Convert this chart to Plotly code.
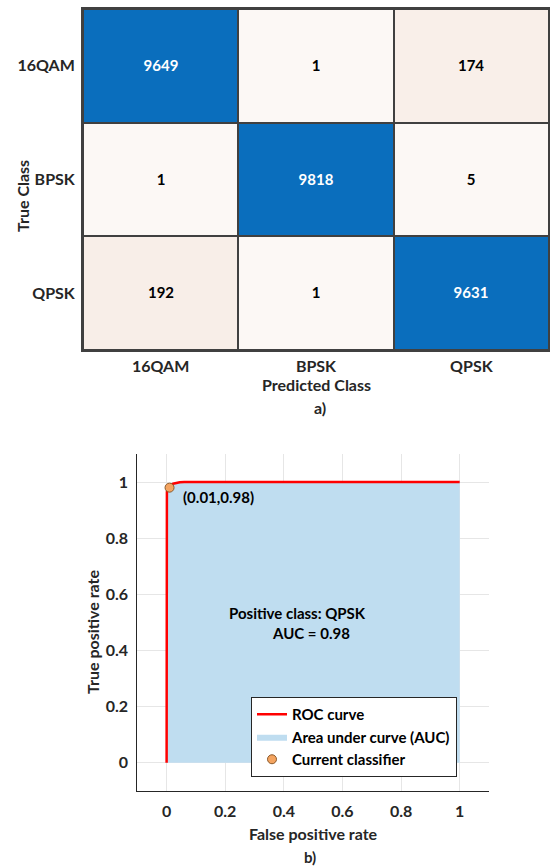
import plotly.graph_objects as go

# ---------------- data ----------------
classes = ["16QAM", "BPSK", "QPSK"]
counts = [
    [9649, 1, 174],
    [1, 9818, 5],
    [192, 1, 9631],
]
roc_fpr = [0.0, 0.0, 0.001, 0.003, 0.006, 0.01, 0.015, 0.022, 0.032, 0.045, 0.06, 1.0]
roc_tpr = [0.0, 0.95, 0.965, 0.975, 0.98, 0.985, 0.99, 0.994, 0.997, 0.999, 1.0, 1.0]
cur_fpr = [0.01]
cur_tpr = [0.98]
auc = 0.98
pos_class = "QPSK"
roc_ticks = [0, 0.2, 0.4, 0.6, 0.8, 1]

FONT = "Lato"
TXT = "#262626"

n = len(classes)
diag_z = [[counts[i][j] if i == j else None for j in range(n)] for i in range(n)]
off_z = [[counts[i][j] if i != j else None for j in range(n)] for i in range(n)]
diag_t = [[str(counts[i][j]) if i == j else "" for j in range(n)] for i in range(n)]
off_t = [[str(counts[i][j]) if i != j else "" for j in range(n)] for i in range(n)]

fig = go.Figure()

fig.add_trace(go.Heatmap(
    z=diag_z, x=classes, y=classes, text=diag_t, texttemplate="%{text}",
    textfont=dict(family=FONT, size=15, color="white", weight="bold"),
    colorscale=[[0, "#0A6EBD"], [1, "#0A6EBD"]], showscale=False,
    xgap=2, ygap=2, hoverongaps=False, xaxis="x", yaxis="y", showlegend=False,
))
fig.add_trace(go.Heatmap(
    z=off_z, x=classes, y=classes, text=off_t, texttemplate="%{text}",
    textfont=dict(family=FONT, size=15, color="black", weight="bold"),
    colorscale=[[0, "#FCF8F5"], [1, "#F8EEE7"]], zmin=0, zmax=200, showscale=False,
    xgap=2, ygap=2, hoverongaps=False, xaxis="x", yaxis="y", showlegend=False,
))

# ROC area
fig.add_trace(go.Scatter(
    x=roc_fpr, y=roc_tpr, mode="lines", fill="tozeroy",
    fillcolor="#BFDDF0", line=dict(width=0, color="#BFDDF0"),
    name="Area under curve (AUC)", xaxis="x2", yaxis="y2", legendrank=2,
))
# ROC curve
fig.add_trace(go.Scatter(
    x=roc_fpr, y=roc_tpr, mode="lines",
    line=dict(color="#FF0000", width=2.5),
    name="ROC curve", xaxis="x2", yaxis="y2", legendrank=1,
))
# current classifier
fig.add_trace(go.Scatter(
    x=cur_fpr, y=cur_tpr, mode="markers",
    marker=dict(color="#F4A460", size=9, line=dict(color="#8B5A2B", width=1)),
    name="Current classifier", xaxis="x2", yaxis="y2", legendrank=3,
))

# dark background behind heatmap cells -> cell borders
fig.add_shape(type="rect", xref="x domain", yref="y domain", x0=0, x1=1, y0=0, y1=1,
              fillcolor="#404040", line=dict(width=0), layer="below")

fig.update_layout(
    width=550, height=868,
    margin=dict(l=0, r=0, t=0, b=0),
    paper_bgcolor="white",
    plot_bgcolor="white",
    font=dict(family=FONT, color=TXT, size=14),
    xaxis=dict(
        domain=[83 / 550, 549 / 550], anchor="y", showgrid=False, zeroline=False,
        ticks="", ticklabelstandoff=1,
        tickfont=dict(family=FONT, size=16, color=TXT, weight="bold"),
        showline=True, linecolor="#404040", linewidth=2, mirror=True,
    ),
    yaxis=dict(
        domain=[1 - 350 / 868, 1 - 9 / 868], anchor="x", autorange="reversed",
        showgrid=False, zeroline=False, ticks="", ticklabelstandoff=3,
        tickfont=dict(family=FONT, size=16, color=TXT, weight="bold"),
        showline=True, linecolor="#404040", linewidth=2, mirror=True,
    ),
    xaxis2=dict(
        domain=[137.3 / 550, 489 / 550], anchor="y2", range=[-0.1, 1.1],
        tickvals=roc_ticks, ticktext=[f"{v:g}" for v in roc_ticks],
        showgrid=True, gridcolor="#E6E6E6", gridwidth=1, zeroline=False,
        showline=True, linecolor="#262626", linewidth=1, ticks="", ticklabelstandoff=6,
        tickfont=dict(family=FONT, size=16, color=TXT, weight="bold"),
    ),
    yaxis2=dict(
        domain=[1 - 790.7 / 868, 1 - 454 / 868], anchor="x2", range=[-0.1, 1.1],
        tickvals=roc_ticks, ticktext=[f"{v:g}" for v in roc_ticks],
        showgrid=True, gridcolor="#E6E6E6", gridwidth=1, zeroline=False,
        showline=True, linecolor="#262626", linewidth=1, ticks="", ticklabelstandoff=5,
        tickfont=dict(family=FONT, size=16, color=TXT, weight="bold"),
    ),
    legend=dict(
        x=251 / 550, y=1 - 697 / 868, xanchor="left", yanchor="top",
        bgcolor="white", bordercolor="#262626", borderwidth=1,
        font=dict(family=FONT, size=15, color="black", weight="bold"),
        itemwidth=30, tracegroupgap=0,
    ),
    showlegend=True,
)

ann = [
    dict(text="True Class", x=22 / 550, y=1 - 196 / 868, textangle=-90, size=16),
    dict(text="Predicted Class", x=316.5 / 550, y=1 - 384 / 868, textangle=0, size=16),
    dict(text="a)", x=320 / 550, y=1 - 408 / 868, textangle=0, size=16),
    dict(text="True positive rate", x=92 / 550, y=1 - 632 / 868, textangle=-90, size=16),
    dict(text="False positive rate", x=313 / 550, y=1 - 833 / 868, textangle=0, size=16),
    dict(text="b)", x=310 / 550, y=1 - 857 / 868, textangle=0, size=15),
]
for a in ann:
    fig.add_annotation(xref="paper", yref="paper", showarrow=False,
                       xanchor="center", yanchor="middle",
                       x=a["x"], y=a["y"], text=a["text"], textangle=a["textangle"],
                       font=dict(family=FONT, color=TXT, weight="bold", size=a["size"]))

fig.add_annotation(xref="x2", yref="y2", x=cur_fpr[0] + 0.04, y=cur_tpr[0] - 0.035,
                   xanchor="left", yanchor="middle", showarrow=False,
                   text=f"({cur_fpr[0]:g},{cur_tpr[0]:g})",
                   font=dict(family=FONT, size=15, color="black", weight="bold"))
fig.add_annotation(xref="x2", yref="y2", x=0.448, y=0.534, showarrow=False,
                   xanchor="center", yanchor="middle",
                   text=f"Positive class: {pos_class}",
                   font=dict(family=FONT, size=15, color="black", weight="bold"))
fig.add_annotation(xref="x2", yref="y2", x=0.491, y=0.4626, showarrow=False,
                   xanchor="center", yanchor="middle",
                   text=f"AUC = {auc:.2f}",
                   font=dict(family=FONT, size=15, color="black", weight="bold"))

fig.write_html("out.html", config={"displayModeBar": False},
               post_script="document.body.style.margin='0';document.body.style.overflow='hidden';")
